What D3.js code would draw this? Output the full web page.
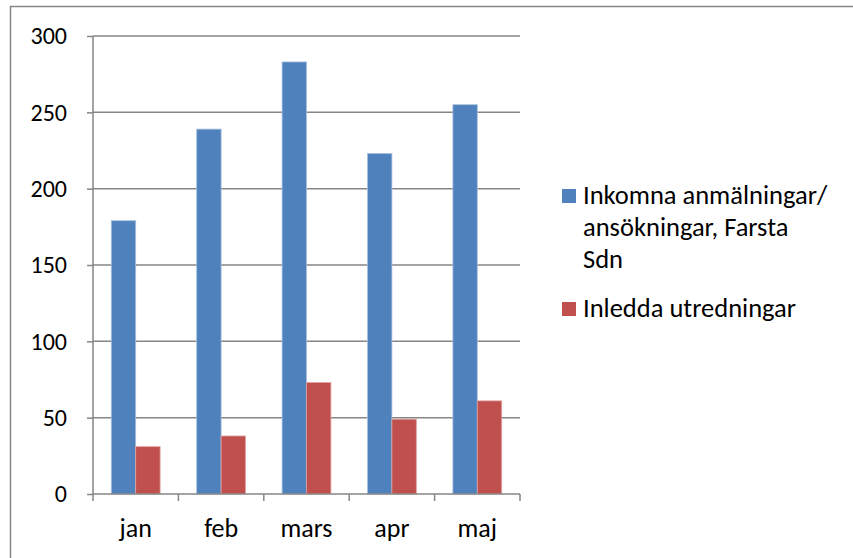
<!DOCTYPE html>
<html>
<head>
<meta charset="utf-8">
<script src="https://cdn.jsdelivr.net/npm/d3@7"></script>
<style>
  body { margin: 0; background: #fff; }
  text { font-family: Carlito, Lato, "Open Sans", sans-serif; fill: #000; }
</style>
</head>
<body>
<svg id="chart" width="853" height="558"></svg>
<script>
var months = ["jan", "feb", "mars", "apr", "maj"];
var inkomna = [179, 239, 283, 223, 255];
var inledda = [31, 38, 73, 49, 61];
var seriesColors = ["#4F81BD", "#C0504D"];
var yTicks = [0, 50, 100, 150, 200, 250, 300];

var svg = d3.select("#chart"),
    margin = {top: 36, right: 333, bottom: 64, left: 93},
    width = +svg.attr("width") - margin.left - margin.right,
    height = +svg.attr("height") - margin.top - margin.bottom;

// outer frame (right/bottom sides fall outside the picture)
svg.append("rect")
    .attr("x", 10.5).attr("y", 6.5)
    .attr("width", 860).attr("height", 570)
    .attr("fill", "none")
    .attr("stroke", "#868686")
    .attr("stroke-width", 1.5);

var g = svg.append("g").attr("transform", "translate(" + margin.left + "," + margin.top + ")");

var x = d3.scaleBand().domain(months).range([0, width]).paddingInner(0).paddingOuter(0);
var x1 = d3.scaleBand().domain([0, 1]).range([0, x.bandwidth()]).paddingInner(0).paddingOuter(0.75);
var y = d3.scaleLinear().domain([0, 300]).range([height, 0]);

// gridlines
g.append("g")
    .selectAll("line")
    .data(yTicks.slice(1))
    .join("line")
    .attr("x1", 0).attr("x2", width)
    .attr("y1", function(d) { return y(d); }).attr("y2", function(d) { return y(d); })
    .attr("stroke", "#868686")
    .attr("stroke-width", 1.5);

var data = months.map(function(m, i) { return {m: m, v: [inkomna[i], inledda[i]]}; });

g.append("g")
    .selectAll("g")
    .data(data)
    .join("g")
    .attr("transform", function(d) { return "translate(" + x(d.m) + ",0)"; })
    .selectAll("rect")
    .data(function(d) { return d.v.map(function(v, k) { return {k: k, v: v}; }); })
    .join("rect")
    .attr("x", function(d) { return x1(d.k); })
    .attr("width", x1.bandwidth())
    .attr("y", function(d) { return y(d.v); })
    .attr("height", function(d) { return y(0) - y(d.v); })
    .attr("fill", function(d) { return seriesColors[d.k]; })
    .attr("stroke", function(d) { return d.k === 0 ? "#a7bfde" : "#e0a09e"; })
    .attr("stroke-width", 0.8);

// y axis
var yAxis = g.append("g")
    .call(d3.axisLeft(y).tickValues(yTicks).tickSize(6).tickPadding(20));
yAxis.select(".domain").attr("stroke", "#868686").attr("stroke-width", 1.5).attr("d", "M0," + height + "V0");
yAxis.selectAll(".tick line").attr("stroke", "#868686").attr("stroke-width", 1.5);
yAxis.selectAll(".tick text").style("font-size", "24px").attr("fill", "#000");

// x axis
var xAxis = g.append("g")
    .attr("transform", "translate(0," + height + ")")
    .call(d3.axisBottom(x).tickSize(0).tickPadding(0));
xAxis.select(".domain").attr("stroke", "#868686").attr("stroke-width", 1.5).attr("d", "M0,0H" + width);
xAxis.selectAll(".tick text").style("font-size", "26px").attr("fill", "#000").attr("dy", null).attr("y", 43);
xAxis.append("g")
    .selectAll("line")
    .data(months.concat(["end"]))
    .join("line")
    .attr("x1", function(d, i) { return i * x.step(); })
    .attr("x2", function(d, i) { return i * x.step(); })
    .attr("y1", 0).attr("y2", 7)
    .attr("stroke", "#868686")
    .attr("stroke-width", 1.5);

// legend
var legend = svg.append("g").attr("transform", "translate(562,0)");
var legendLines = [["Inkomna anmälningar/", "ansökningar, Farsta", "Sdn"], ["Inledda utredningar"]];
var legendBase = [204, 317];
legendLines.forEach(function(lines, k) {
    legend.append("rect")
        .attr("x", 0).attr("y", legendBase[k] - 15)
        .attr("width", 14).attr("height", 14)
        .attr("fill", seriesColors[k]);
    lines.forEach(function(t, j) {
        legend.append("text")
            .attr("x", 21)
            .attr("y", legendBase[k] + j * 32)
            .style("font-size", "26.5px")
            .text(t);
    });
});
</script>
</body>
</html>
